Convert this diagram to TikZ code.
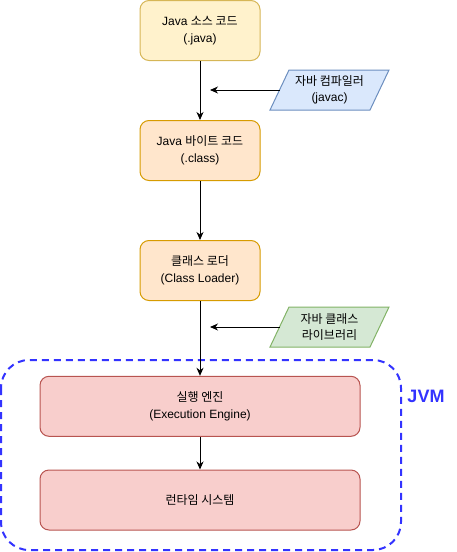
\documentclass[tikz,border=0pt]{standalone}
\usepackage{fontspec}
\setmainfont{Liberation Sans}
\newfontfamily\kr{Noto Sans CJK KR}
\usepackage{tikz}
\usetikzlibrary{arrows.meta}
\usepackage{xcolor}
\definecolor{source-fill}{HTML}{FFF2CC}
\definecolor{source-line}{HTML}{D6B656}
\definecolor{class-fill}{HTML}{FFE6CC}
\definecolor{class-line}{HTML}{D79B00}
\definecolor{engine-fill}{HTML}{F8CECC}
\definecolor{engine-line}{HTML}{B85450}
\definecolor{tool-fill}{HTML}{DAE8FC}
\definecolor{tool-line}{HTML}{6C8EBF}
\definecolor{lib-fill}{HTML}{D5E8D4}
\definecolor{lib-line}{HTML}{82B366}
\definecolor{jvm-blue}{HTML}{3333FF}
\tikzstyle{label}=[font=\fontsize{12}{16.5}\selectfont, align=center]
\tikzstyle{stage}=[label, draw, line width=1pt, rounded corners=9pt, minimum height=60pt]
\tikzstyle{small}=[stage, minimum width=120pt]
\tikzstyle{wide}=[stage, minimum width=320pt]
\tikzstyle{flow}=[line width=1pt, -{Stealth[length=8pt, width=7pt, inset=2.5pt]}]
\tikzstyle{input}=[line width=1pt]

\begin{document}
\begin{tikzpicture}[x=1pt, y=-1pt]
	\useasboundingbox (0,0) rectangle (457,552);
	\draw[jvm-blue, line width=2pt, dash pattern=on 7pt off 5pt, rounded corners=28pt] (1,360) rectangle (401,550);
	\node[font=\fontsize{18}{20}\selectfont\bfseries, text=jvm-blue] (jvm) at (426,396) {JVM};
	\node[small, fill=source-fill, draw=source-line] (src) at (200,30.5) {Java {\kr 소스 코드}\\(.java)};
	\node[small, fill=class-fill, draw=class-line] (bytecode) at (200,150.5) {Java {\kr 바이트 코드}\\(.class)};
	\node[small, fill=class-fill, draw=class-line] (loader) at (200,270.5) {{\kr 클래스 로더}\\(Class Loader)};
	\node[wide, fill=engine-fill, draw=engine-line] (engine) at (200,406.3) {{\kr 실행 엔진}\\(Execution Engine)};
	\node[wide, fill=engine-fill, draw=engine-line] (runtime) at (200,500) {{\kr 런타임 시스템}};
	\filldraw[input, fill=tool-fill, draw=tool-line] (270,110) -- (289,70) -- (389,70) -- (370,110) -- cycle;
	\node[label] (javac) at (329.5,90) {{\kr 자바 컴파일러}\\(javac)};
	\filldraw[input, fill=lib-fill, draw=lib-line] (270,347) -- (289,307) -- (389,307) -- (370,347) -- cycle;
	\node[label] (lib) at (329.5,327) {{\kr 자바 클래스}\\{\kr 라이브러리}};
	\coordinate (javac-in) at (279.5,90);
	\coordinate (javac-out) at (210,90);
	\coordinate (lib-in) at (279.5,327);
	\coordinate (lib-out) at (210,327);
	\draw[flow] (src) -- (bytecode);
	\draw[flow] (bytecode) -- (loader);
	\draw[flow] (loader) -- (engine);
	\draw[flow] (engine) -- (runtime);
	\draw[flow] (javac-in) -- (javac-out);
	\draw[flow] (lib-in) -- (lib-out);
\end{tikzpicture}
\end{document}
